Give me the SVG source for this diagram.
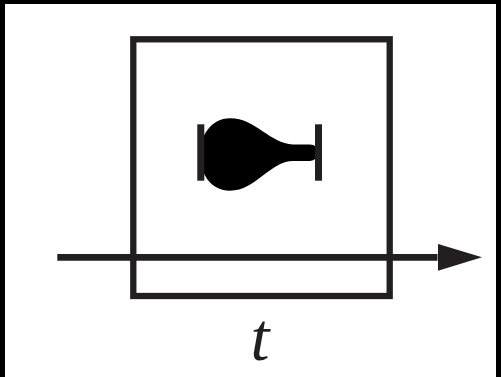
<svg xmlns="http://www.w3.org/2000/svg" width="501" height="377" viewBox="0 0 501 377">
<defs>
<style>
.ln{stroke:#231f20;fill:none}
.lbl{font-family:"Liberation Serif",serif;font-style:italic;fill:#231f20}
</style>
<marker id="ah" markerUnits="userSpaceOnUse" markerWidth="46" markerHeight="28" refX="0" refY="13.5" orient="auto">
<path d="M0 0 L44.5 13.5 L0 27 Z" fill="#231f20"/>
</marker>
</defs>
<rect x="0" y="0" width="501" height="377" fill="#000"/>
<rect x="5" y="4" width="491" height="373" fill="#fff"/>
<g id="box">
<rect class="ln" x="133.3" y="39.3" width="256.4" height="256.7" stroke-width="6.3"/>
</g>
<g id="glyph">
<path d="M293 144.4 C270 144 256 118.3 230 118.3 C211 118.3 200 136 200 154.5 C200 174 211 190.7 230 190.7 C256 190.7 270 161 293 161 L310 161 A8.3 8.3 0 0 0 310 144.4 Z" fill="#000"/>
<rect x="197.3" y="124.3" width="7" height="56.4" fill="#231f20"/>
<rect x="315" y="124.3" width="7" height="56.4" fill="#231f20"/>
</g>
<g id="connectors">
<line class="ln" x1="57.3" y1="257.3" x2="437.5" y2="257.3" stroke-width="6.8" marker-end="url(#ah)"/>
</g>
<g id="label">
<text class="lbl" x="260" y="360" font-size="68" text-anchor="middle">t</text>
</g>
</svg>
